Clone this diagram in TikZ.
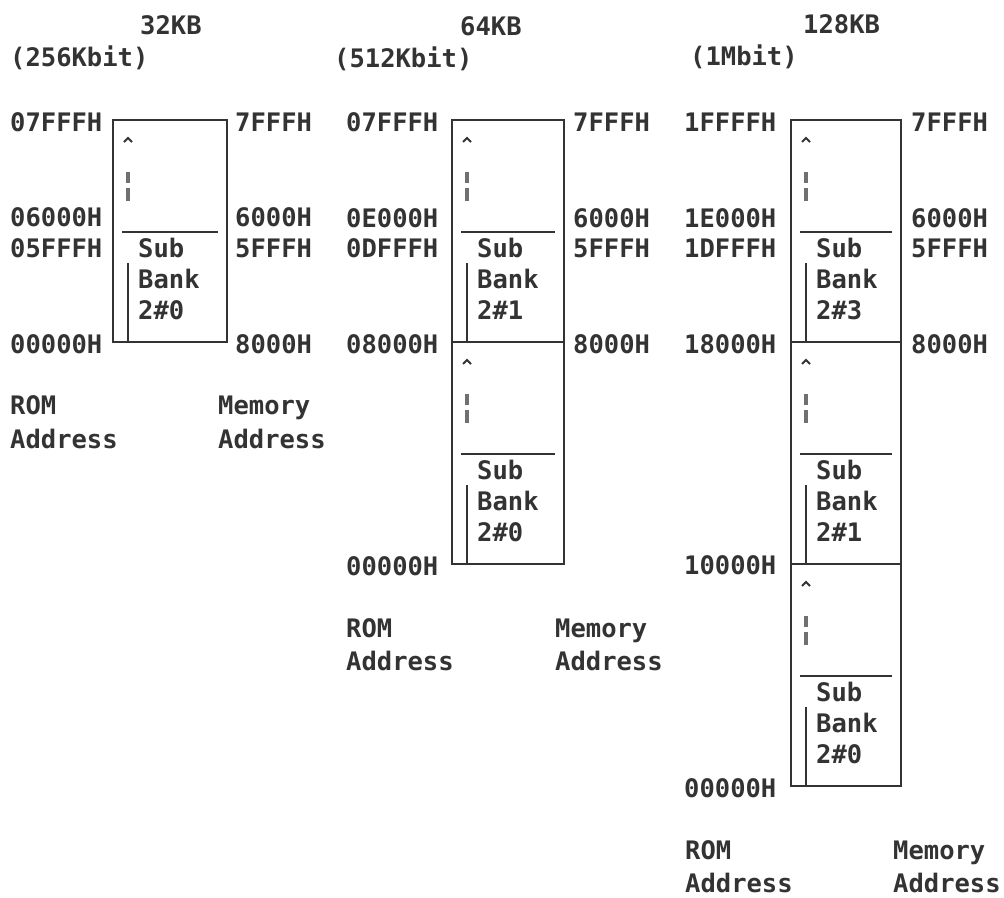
\documentclass[tikz,border=0pt]{standalone}
\usepackage{fontspec}
\setmonofont{DejaVu Sans Mono}
\definecolor{ink}{HTML}{333333}
\newcommand\membank[5]{%
  \draw[box] (#1,#2) rectangle ++(#3,222);
  \draw[sep] (#1+9,#2+112) -- (#1+#3-9,#2+112);
  \draw[sep,line width=2pt] (#1+11,#2+22) -- (#1+15,#2+18) -- (#1+19,#2+22);
  \draw[dashpart] (#1+15,#2+52) -- (#1+15,#2+63);
  \draw[dashpart] (#1+15,#2+68) -- (#1+15,#2+81);
  \draw[sep] (#1+15,#2+143) -- (#1+15,#2+222);
  \node[lab] (#5s) at (#1+25,#2+137) {Sub};
  \node[lab] (#5b) at (#1+25,#2+168) {Bank};
  \node[lab] (#5n) at (#1+25,#2+199) {2\##4};
}
\begin{document}
\begin{tikzpicture}[x=1pt,y=-1pt,
  lab/.style={font=\ttfamily\bfseries\fontsize{25.5}{30}\selectfont, inner sep=0pt, anchor=base west, text=ink},
  box/.style={line width=2.2pt, draw=ink},
  sep/.style={line width=1.8pt, draw=ink},
  dashpart/.style={line width=3.2pt, draw=ink!70}]
\useasboundingbox (0,0) rectangle (1004,897);
% ---------- Panel 1 ----------
\node[lab] (t1) at (140,34) {32KB};
\node[lab] (s1) at (10,66) {(256Kbit)};
\membank{113}{120}{114}{0}{pa}
\node[lab] (l1a) at (10,131) {07FFFH};
\node[lab] (l1b) at (10,226) {06000H};
\node[lab] (l1c) at (10,257) {05FFFH};
\node[lab] (l1d) at (10,353) {00000H};
\node[lab] (r1a) at (235,131) {7FFFH};
\node[lab] (r1b) at (235,226) {6000H};
\node[lab] (r1c) at (235,257) {5FFFH};
\node[lab] (r1d) at (235,353) {8000H};
\node[lab] (rom1) at (10,414) {ROM};
\node[lab] (ra1) at (10,448) {Address};
\node[lab] (mem1) at (218,414) {Memory};
\node[lab] (ma1) at (218,448) {Address};
% ---------- Panel 2 ----------
\node[lab] (t2) at (460,35) {64KB};
\node[lab] (s2) at (334,67) {(512Kbit)};
\membank{452}{120}{112}{1}{pb}
\membank{452}{342}{112}{0}{pc}
\node[lab] (l2a) at (346,131) {07FFFH};
\node[lab] (l2b) at (346,227) {0E000H};
\node[lab] (l2c) at (346,257) {0DFFFH};
\node[lab] (l2d) at (346,353) {08000H};
\node[lab] (l2e) at (346,575) {00000H};
\node[lab] (r2a) at (573,131) {7FFFH};
\node[lab] (r2b) at (573,227) {6000H};
\node[lab] (r2c) at (573,257) {5FFFH};
\node[lab] (r2d) at (573,353) {8000H};
\node[lab] (rom2) at (346,637) {ROM};
\node[lab] (ra2) at (346,670) {Address};
\node[lab] (mem2) at (555,637) {Memory};
\node[lab] (ma2) at (555,670) {Address};
% ---------- Panel 3 ----------
\node[lab] (t3) at (803,33) {128KB};
\node[lab] (s3) at (690,65) {(1Mbit)};
\membank{791}{120}{110}{3}{pd}
\membank{791}{342}{110}{1}{pe}
\membank{791}{564}{110}{0}{pf}
\node[lab] (l3a) at (684,131) {1FFFFH};
\node[lab] (l3b) at (684,227) {1E000H};
\node[lab] (l3c) at (684,257) {1DFFFH};
\node[lab] (l3d) at (684,353) {18000H};
\node[lab] (l3e) at (684,574) {10000H};
\node[lab] (l3f) at (684,797) {00000H};
\node[lab] (r3a) at (911,131) {7FFFH};
\node[lab] (r3b) at (911,227) {6000H};
\node[lab] (r3c) at (911,257) {5FFFH};
\node[lab] (r3d) at (911,353) {8000H};
\node[lab] (rom3) at (685,859) {ROM};
\node[lab] (ra3) at (685,892) {Address};
\node[lab] (mem3) at (893,859) {Memory};
\node[lab] (ma3) at (893,892) {Address};
\end{tikzpicture}
\end{document}
